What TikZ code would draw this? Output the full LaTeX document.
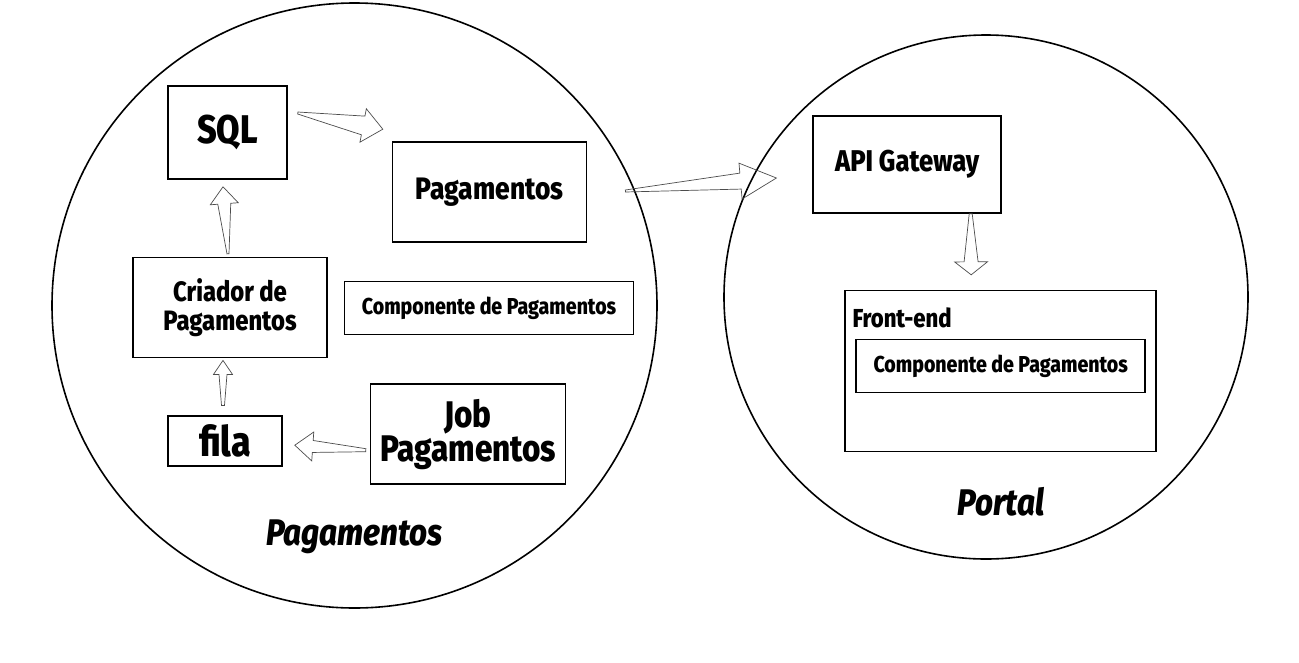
\documentclass[tikz,border=0pt]{standalone}
\usepackage{fontspec}
\setmainfont{Fira Sans}[FakeStretch=0.85, BoldFont={Fira Sans ExtraBold}, BoldItalicFont={Fira Sans ExtraBold Italic}]
\usetikzlibrary{positioning,calc}

\begin{document}
\begin{tikzpicture}[
        x=1pt, y=-1pt,
        every node/.style={align=center, font=\bfseries},
        every path/.style={line join=miter},
        box/.style={draw, line width=1.6pt, inner sep=2pt},
        zone/.style={draw, circle, line width=1.6pt, inner sep=0pt},
        zonelabel/.style={inner sep=0pt, font=\bfseries\itshape\fontsize{37}{38}\selectfont},
        hollow/.style n args={4}{draw=black!70, line width=0.7pt,
            to path={let \p1=(\tikztostart), \p2=(\tikztotarget),
                \n1={atan2(\y2-\y1,\x2-\x1)} in
                ($(\p1)+({\n1+90}:#1)$)
                -- ($(\p2)+(\n1:-#4)+({\n1+90}:#2)$)
                -- ($(\p2)+(\n1:-#4)+({\n1+90}:#3)$)
                -- (\p2)
                -- ($(\p2)+(\n1:-#4)+({\n1-90}:#3)$)
                -- ($(\p2)+(\n1:-#4)+({\n1-90}:#2)$)
                -- ($(\p1)+({\n1-90}:#1)$) -- cycle}}
    ]

    \path[use as bounding box, fill=white] (0,0) rectangle (1299,662);

    % Nodes
    \node[zone, minimum size=605pt] (pagzone) at (354.5,305.5) {};
    \node[zone, minimum size=524pt] (portzone) at (986,297) {};

    \node[box, minimum width=119pt, minimum height=93pt, font=\bfseries\fontsize{40}{44}\selectfont] (sql) at (227.5,132.5) {SQL};
    \node[box, minimum width=194pt, minimum height=100pt, font=\bfseries\fontsize{28}{29}\selectfont] (criador) [below=77pt of sql, xshift=2.5pt] {Criador de\\Pagamentos};
    \node[box, minimum width=114pt, minimum height=50pt, font=\bfseries\fontsize{42}{44}\selectfont] (fila) [below=57pt of criador, xshift=-5pt] {fila};
    \node[box, minimum width=194pt, minimum height=100pt, font=\bfseries\fontsize{31}{34}\selectfont] (pagamentos) [right=104pt of sql, yshift=-59.5pt] {Pagamentos};
    \node[box, minimum width=289pt, minimum height=53pt, font=\bfseries\fontsize{23}{26}\selectfont] (compleft) [below=38pt of pagamentos, xshift=-0.5pt] {Componente de Pagamentos};
    \node[box, minimum width=195pt, minimum height=100pt, font=\bfseries\fontsize{37}{34}\selectfont] (job) [right=87pt of fila, yshift=7pt] {Job\\Pagamentos};

    \node[box, minimum width=188pt, minimum height=97pt, font=\bfseries\fontsize{30}{32}\selectfont] (api) [right=225pt of pagamentos, yshift=27.5pt] {API Gateway};
    \node[box, minimum width=311pt, minimum height=161pt] (front) [below=76pt of api, xshift=93.5pt] {};
    \node[inner sep=0pt, anchor=north west, font=\bfseries\fontsize{26}{28}\selectfont] (frontlabel) [below right=18pt and 8pt of front.north west] {Front-end};
    \node[box, minimum width=289pt, minimum height=53pt, font=\bfseries\fontsize{23}{26}\selectfont] (compright) [below=49pt of front.north] {Componente de Pagamentos};

    \node[zonelabel] (pagname) [above=55pt of pagzone.south] {Pagamentos};
    \node[zonelabel] (portname) [above=43pt of portzone.south, xshift=15pt] {Portal};

    % Edges
    \draw[hollow={1pt}{9.5pt}{17pt}{20pt}] ([xshift=10pt,yshift=19.5pt]sql.east) to ([xshift=-9pt,yshift=12pt]pagamentos.north west);
    \draw[hollow={1pt}{6.5pt}{14pt}{17pt}] ([xshift=-2pt,yshift=3pt]criador.north) to ([xshift=-4.5pt,yshift=-7pt]sql.south);
    \draw[hollow={1.5pt}{4pt}{9.5pt}{14pt}] ([xshift=-2pt,yshift=10pt]fila.north) to ([xshift=-7pt,yshift=-2pt]criador.south);
    \draw[hollow={1.5pt}{6pt}{14.5pt}{18pt}] ([xshift=-4pt,yshift=-16pt]job.west) to ([xshift=12pt,yshift=-4pt]fila.east);
    \draw[hollow={1pt}{8pt}{18pt}{36pt}] ([xshift=38pt,yshift=1pt]pagamentos.east) to ([xshift=-36pt,yshift=-13.5pt]api.west);
    \draw[hollow={1.5pt}{7pt}{16.5pt}{13pt}] ([xshift=63.5pt]api.south) to ([xshift=-29.5pt,yshift=15pt]front.north);

\end{tikzpicture}
\end{document}
